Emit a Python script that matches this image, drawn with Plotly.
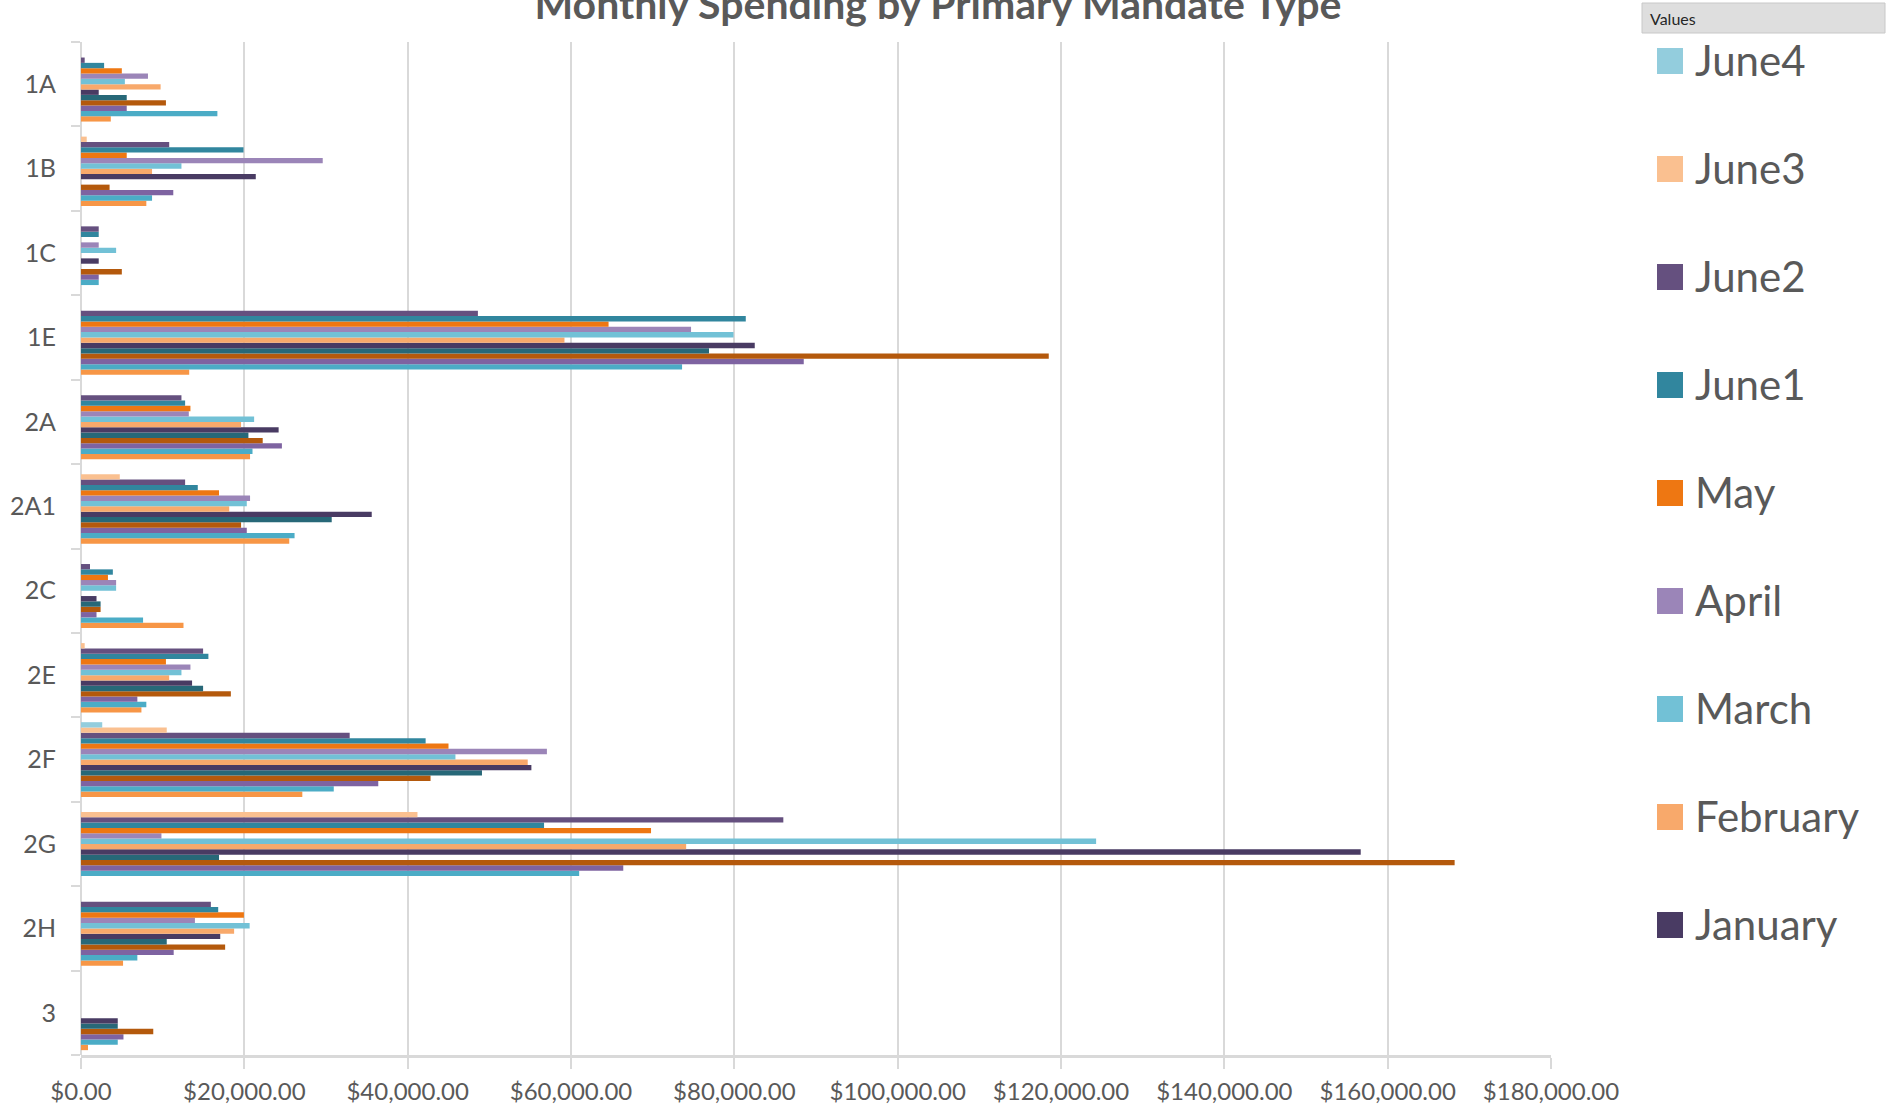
import plotly.graph_objects as go

# Mandate types (top to bottom)
categories = ["1A", "1B", "1C", "1E", "2A", "2A1", "2C", "2E", "2F", "2G", "2H", "3"]

# Monthly spending per mandate type, one list per period (None = no spending)
august    = [3650, 8000, None, 13250, 20700, 25500, 12550, 7400, 27100, None, 5150, 860]
september = [16700, 8700, 2170, 73600, 21000, 26150, 7600, 8000, 30950, 61000, 6900, 4500]
october   = [5600, 11300, 2170, 88500, 24600, 20300, 1900, 6900, 36400, 66400, 11350, 5200]
november  = [10400, 3500, 5000, 118500, 22250, 19600, 2400, 18350, 42800, 168200, 17650, 8850]
december  = [5600, None, None, 76900, 20500, 30700, 2400, 14950, 49100, 16900, 10500, 4500]
january   = [2170, 21400, 2170, 82500, 24200, 35600, 1900, 13600, 55150, 156700, 17050, 4500]
february  = [9750, 8700, None, 59200, 19600, 18150, None, 10800, 54700, 74100, 18750, None]
march     = [5370, 12300, 4300, 79900, 21200, 20300, 4300, 12300, 45850, 124300, 20650, None]
april     = [8200, 29600, 2170, 74700, 13200, 20700, 4300, 13400, 57050, 9850, 13950, None]
may       = [5000, 5600, None, 64600, 13400, 16900, 3300, 10400, 45000, 69800, 19950, None]
june1     = [2830, 19900, 2170, 81400, 12750, 14300, 3900, 15600, 42200, 56700, 16800, None]
june2     = [450, 10800, 2170, 48600, 12300, 12750, 1100, 14950, 32900, 86000, 15900, None]
june3     = [None, 700, None, None, None, 4750, None, 450, 10500, 41200, None, None]
june4     = [None, None, None, None, None, None, None, None, 2600, None, None, None]

series = [
    ("August", august, "#F79646", False),
    ("September", september, "#4BACC6", False),
    ("October", october, "#7E63A1", False),
    ("November", november, "#B4590C", False),
    ("December", december, "#276878", False),
    ("January", january, "#493B63", True),
    ("February", february, "#F8A96B", True),
    ("March", march, "#72C1D6", True),
    ("April", april, "#9B85B8", True),
    ("May", may, "#EE7712", True),
    ("June1", june1, "#31869E", True),
    ("June2", june2, "#65507F", True),
    ("June3", june3, "#FAC090", True),
    ("June4", june4, "#93CDDD", True),
]

FONT = "Lato"
GREY = "#595959"
LINE = "#D9D9D9"

fig = go.Figure()
for name, vals, color, _ in series:
    fig.add_trace(go.Bar(
        name=name, y=categories, x=vals, orientation="h",
        marker=dict(color=color, line=dict(width=0)),
        showlegend=False,
    ))

# Plot area geometry (pixels) for the side legend
W, H = 1890, 1107
L, R, T, B = 81, 339, 42, 52
pw, ph = W - L - R, H - T - B


def px(x):
    return (x - L) / pw


def py(y):
    return (H - B - y) / ph


shapes = []
annotations = []

# "Values" field header above the legend
shapes.append(dict(type="rect", xref="paper", yref="paper",
                   x0=px(1642), x1=px(1885), y0=py(33), y1=py(3),
                   fillcolor="#DEDEDE", line=dict(color="#C8C8C8", width=1), layer="above"))
annotations.append(dict(text="Values", xref="paper", yref="paper", x=px(1648), y=py(18),
                        xanchor="left", yanchor="middle", showarrow=False,
                        font=dict(family=FONT, size=16, color="#262626")))

# Legend entries, latest period first
shown = [s for s in series if s[3]][::-1]
for i, (name, _, color, _) in enumerate(shown):
    cy = 61 + 108.0 * i
    shapes.append(dict(type="rect", xref="paper", yref="paper",
                       x0=px(1657), x1=px(1683), y0=py(cy + 13), y1=py(cy - 13),
                       fillcolor=color, line=dict(width=0)))
    annotations.append(dict(text=name, xref="paper", yref="paper", x=px(1693), y=py(cy - 1),
                            xanchor="left", yanchor="middle", showarrow=False,
                            font=dict(family=FONT, size=42, color=GREY)))

fig.update_layout(
    width=W, height=H,
    margin=dict(l=L, r=R, t=T, b=B, autoexpand=False),
    paper_bgcolor="white", plot_bgcolor="white",
    barmode="group", bargap=0.115, bargroupgap=0,
    title=dict(text="<b>Monthly Spending by Primary Mandate Type</b>",
               x=0.4963, xanchor="center", y=0.9955, yanchor="middle",
               font=dict(family=FONT, size=41, color=GREY)),
    font=dict(family=FONT, color=GREY),
    shapes=shapes, annotations=annotations,
    showlegend=False,
)

fig.update_xaxes(
    range=[0, 180000], dtick=20000, tickformat="$,.2f",
    automargin=False,
    showgrid=True, gridcolor=LINE, gridwidth=1.5,
    zeroline=True, zerolinecolor=LINE, zerolinewidth=1.5,
    showline=True, linecolor=LINE, linewidth=3,
    ticks="outside", ticklen=11, tickcolor=LINE, tickwidth=1.5,
    ticklabelstandoff=2,
    tickfont=dict(family=FONT, size=24, color=GREY),
)
fig.update_yaxes(
    categoryorder="array", categoryarray=categories[::-1],
    automargin=False,
    showgrid=False, showline=False,
    ticks="outside", tickson="boundaries", ticklen=9, tickcolor=LINE, tickwidth=1.5,
    ticklabelstandoff=24,
    tickfont=dict(family=FONT, size=25, color=GREY),
)

fig.write_html("out.html")
